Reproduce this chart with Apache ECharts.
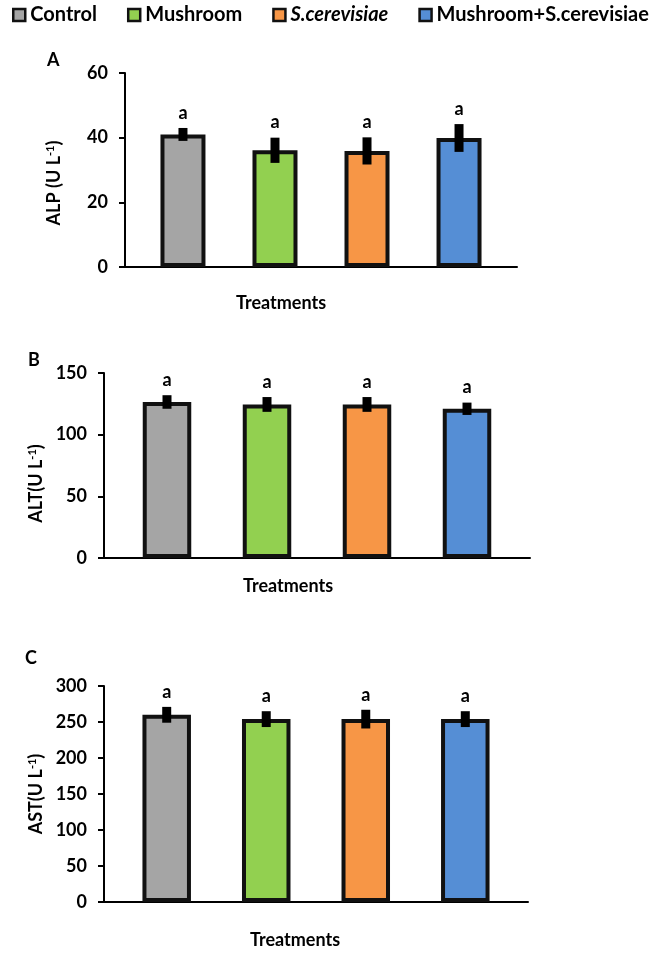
<!DOCTYPE html>
<html><head><meta charset="utf-8">
<script src="https://cdn.jsdelivr.net/npm/echarts/dist/echarts.min.js"></script>
<style>html,body{margin:0;padding:0;background:#fff}#c{width:664px;height:953px}</style>
</head><body><div id="c"></div>
<script>
// ---- data ----
const treatments = ['Control', 'Mushroom', 'S.cerevisiae', 'Mushroom+S.cerevisiae'];
const positions = [1, 2, 3, 4];
const alpMean = [41, 36.1, 35.9, 39.9];
const alpErr = [2, 3.9, 4.2, 4.3];
const alpLetters = ['a', 'a', 'a', 'a'];
const altMean = [126.5, 124.5, 124.5, 121];
const altErr = [5.5, 6, 6, 5];
const altLetters = ['a', 'a', 'a', 'a'];
const astMean = [260, 254, 254, 254];
const astErr = [11, 11, 13, 11];
const astLetters = ['a', 'a', 'a', 'a'];
const alpTicks = {min: 0, max: 60, interval: 20};
const altTicks = {min: 0, max: 150, interval: 50};
const astTicks = {min: 0, max: 300, interval: 50};
const panelLetters = ['A', 'B', 'C'];
const yNames = [['ALP (U L', '-1', ')'], ['ALT(U L', '-1', ')'], ['AST(U L', '-1', ')']];
const xName = 'Treatments';

// ---- styles ----
const FONT = 'Lato';
const colors = ['#A5A5A5', '#92D050', '#F79646', '#558ED5'];
const panels = [
  {mean: alpMean, err: alpErr, letters: alpLetters, ticks: alpTicks,
   grid: {left: 125, right: 147, top: 73, bottom: 686}, barWidth: 45,
   yGap: 62, yPad: 26, xGap: 27, xPad: 80, title: {left: 47, top: 51}},
  {mean: altMean, err: altErr, letters: altLetters, ticks: altTicks,
   grid: {left: 104, right: 134, top: 373, bottom: 395}, barWidth: 48.5,
   yGap: 46, yPad: 36, xGap: 19, xPad: 58, title: {left: 28, top: 351}},
  {mean: astMean, err: astErr, letters: astLetters, ticks: astTicks,
   grid: {left: 104, right: 136, top: 686, bottom: 51}, barWidth: 48.5,
   yGap: 56, yPad: 0, xGap: 29, xPad: 42, title: {left: 25, top: 649}}
];

const grid = [], xAxis = [], yAxis = [], series = [], title = [];
panels.forEach((p, k) => {
  grid.push(Object.assign({containLabel: false}, p.grid));
  title.push({text: panelLetters[k], left: p.title.left, top: p.title.top, padding: 0,
    textStyle: {fontFamily: FONT, fontSize: 18, fontWeight: 'bold', color: '#000'}});
  xAxis.push({type: 'value', gridIndex: k, min: 0.37, max: 4.63,
    axisLine: {show: true, onZero: false, lineStyle: {color: '#000', width: 2}},
    axisTick: {show: false}, axisLabel: {show: false}, splitLine: {show: false},
    name: xName, nameLocation: 'middle', nameGap: p.xGap,
    nameTextStyle: {fontFamily: FONT, fontSize: 18, fontWeight: 'bold', color: '#000',
      padding: [0, p.xPad, 0, 0]}});
  const yn = yNames[k];
  yAxis.push({type: 'value', gridIndex: k, min: p.ticks.min, max: p.ticks.max, interval: p.ticks.interval,
    axisLine: {show: true, onZero: false, lineStyle: {color: '#000', width: 2}},
    axisTick: {show: true, length: 6, lineStyle: {color: '#000', width: 2}},
    axisLabel: {margin: 17, fontFamily: FONT, fontSize: 18, fontWeight: 'bold', color: '#000'},
    splitLine: {show: false},
    name: '{t|' + yn[0] + '}{s|' + yn[1] + '}{t|' + yn[2] + '}',
    nameLocation: 'middle', nameGap: p.yGap, nameRotate: 90,
    nameTextStyle: {padding: [0, p.yPad, 0, 0],
      rich: {t: {fontFamily: FONT, fontSize: 18, fontWeight: 'bold', color: '#000'},
             s: {fontFamily: FONT, fontSize: 11, fontWeight: 'bold', color: '#000', verticalAlign: 'top'}}}});
  treatments.forEach((name, i) => {
    series.push({type: 'bar', name: name, xAxisIndex: k, yAxisIndex: k,
      data: [[positions[i], p.mean[i]]], barWidth: p.barWidth, barGap: '-100%',
      itemStyle: {color: colors[i], borderColor: '#111', borderWidth: 4}, z: 2, silent: true});
  });
  series.push({type: 'custom', xAxisIndex: k, yAxisIndex: k, z: 5, silent: true,
    encode: {x: 0, y: 1},
    data: positions.map((x, i) => [x, p.mean[i], p.err[i]]),
    renderItem: (params, api) => {
      const x = api.value(0), m = api.value(1), e = api.value(2);
      const top = api.coord([x, m + e]);
      const bot = api.coord([x, m - e]);
      return {type: 'group', children: [
        {type: 'rect', shape: {x: top[0] - 4.5, y: top[1], width: 9, height: bot[1] - top[1]},
         style: {fill: '#000'}},
        {type: 'text', style: {text: p.letters[params.dataIndex], x: top[0], y: top[1] - 6,
          align: 'center', verticalAlign: 'bottom', textAlign: 'center', textVerticalAlign: 'bottom',
          font: 'bold 18px ' + FONT, fill: '#000'}}
      ]};
    }});
});

const chart = echarts.init(document.getElementById('c'), null, {renderer: 'canvas'});
chart.setOption({
  animation: false,
  backgroundColor: '#fff',
  title: title,
  legend: {left: 12, top: 5, padding: 0, itemGap: 30, itemWidth: 12, itemHeight: 12,
    icon: 'rect', itemStyle: {borderColor: '#111', borderWidth: 2.5},
    textStyle: {fontFamily: FONT, fontSize: 20, fontWeight: 'bold', color: '#000'},
    data: treatments.map(n => n === 'S.cerevisiae'
      ? {name: n, textStyle: {fontStyle: 'italic'}} : {name: n})},
  grid: grid, xAxis: xAxis, yAxis: yAxis, series: series
});
</script></body></html>
